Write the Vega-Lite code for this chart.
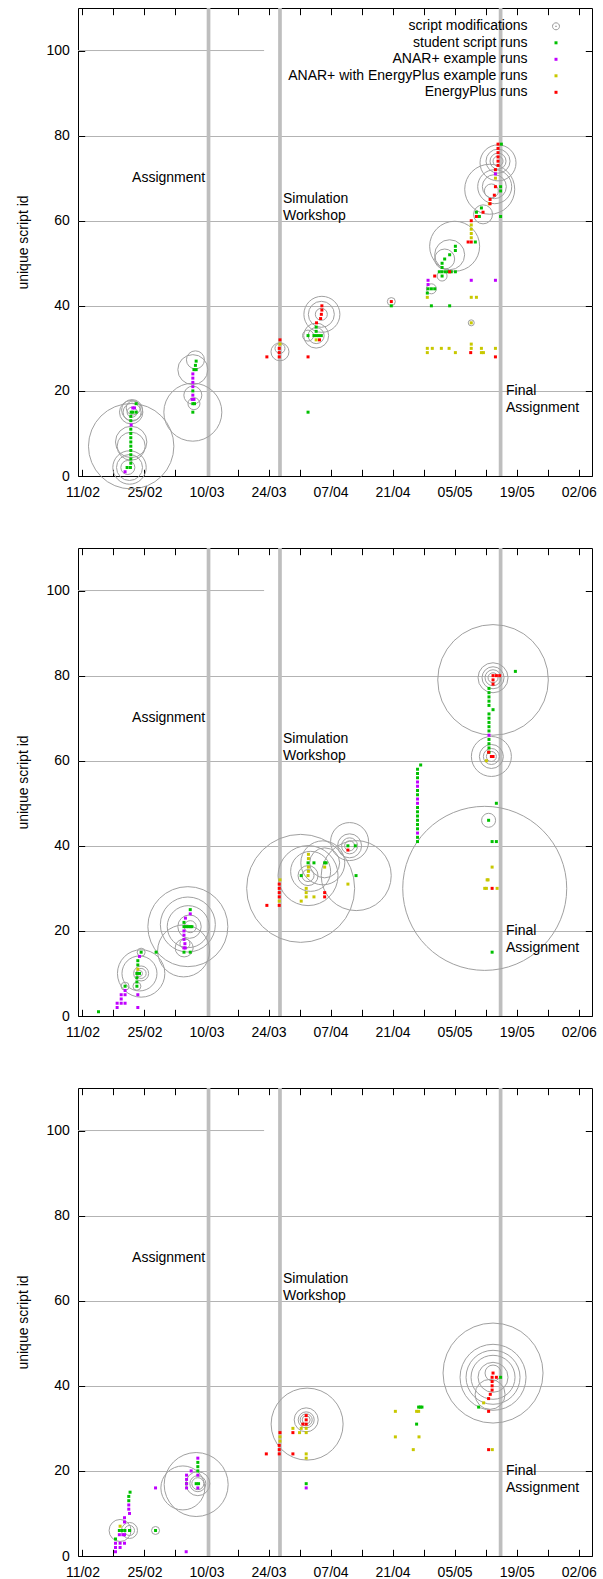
{
"$schema": "https://vega.github.io/schema/vega-lite/v6.json",
"padding": {"left": 16, "top": 5, "right": 0, "bottom": 12},
"spacing": 45,
"config": {
  "view": {"stroke": "#000000", "strokeWidth": 1},
  "font": "Liberation Sans",
  "axis": {"labelFont": "Liberation Sans", "labelFontSize": 14, "labelColor": "#000000", "tickColor": "#000000", "tickWidth": 1, "titleFont": "Liberation Sans", "titleFontSize": 14, "titleFontWeight": "normal", "titleColor": "#000000", "domain": false, "grid": false},
  "legend": {"title": null, "orient": "none", "legendX": 471, "legendY": 11.3, "labelAlign": "right", "labelOffset": -35.5, "labelLimit": 400, "labelFont": "Liberation Sans", "labelFontSize": 14, "labelColor": "#000000", "rowPadding": 2.5, "padding": 0, "symbolSize": 9, "symbolStrokeWidth": 1}
},
"datasets": {
"g100": [{"from": "2016-02-10T00:00Z", "to": "2016-03-23T00:00Z", "id": 100}],
"ev": [{"t": "2016-03-10T11:00Z"}, {"t": "2016-03-26T14:00Z"}, {"t": "2016-05-15T09:00Z"}],
"labR": [{"t": "2016-03-09T17:00Z", "v": 70, "text": "Assignment"}],
"labL": [{"t": "2016-03-27T06:00Z", "v": 65, "text": "Simulation"}, {"t": "2016-03-27T06:00Z", "v": 61, "text": "Workshop"}, {"t": "2016-05-16T14:00Z", "v": 20, "text": "Final"}, {"t": "2016-05-16T14:00Z", "v": 16, "text": "Assignment"}],
"r1": [
{"t":"2016-02-21T02:00Z","id":2,"s":"S"},{"t":"2016-02-21T20:00Z","id":2,"s":"S"},
{"t":"2016-02-21T22:00Z","id":3,"s":"S"},{"t":"2016-02-21T22:00Z","id":4,"s":"S"},{"t":"2016-02-21T22:00Z","id":5,"s":"S"},{"t":"2016-02-21T22:00Z","id":6,"s":"S"},{"t":"2016-02-21T22:00Z","id":7,"s":"S"},{"t":"2016-02-21T22:00Z","id":8,"s":"S"},{"t":"2016-02-21T22:00Z","id":9,"s":"S"},{"t":"2016-02-21T22:00Z","id":10,"s":"S"},{"t":"2016-02-21T22:00Z","id":11,"s":"S"},{"t":"2016-02-21T22:00Z","id":13,"s":"S"},{"t":"2016-02-21T22:00Z","id":14,"s":"S"},
{"t":"2016-02-22T00:00Z","id":15,"s":"S"},{"t":"2016-02-22T09:00Z","id":15,"s":"S"},{"t":"2016-02-23T03:00Z","id":15,"s":"S"},{"t":"2016-02-23T03:00Z","id":17,"s":"S"},
{"t":"2016-03-06T22:00Z","id":15,"s":"S"},{"t":"2016-03-06T22:00Z","id":17,"s":"S"},{"t":"2016-03-07T07:00Z","id":17,"s":"S"},{"t":"2016-03-06T22:00Z","id":20,"s":"S"},{"t":"2016-03-07T04:00Z","id":25,"s":"S"},{"t":"2016-03-07T16:00Z","id":25,"s":"S"},{"t":"2016-03-07T12:00Z","id":26,"s":"S"},{"t":"2016-03-07T16:00Z","id":27,"s":"S"},
{"t":"2016-04-01T22:00Z","id":15,"s":"S"},{"t":"2016-04-01T22:00Z","id":33,"s":"S"},{"t":"2016-04-03T06:00Z","id":33,"s":"S"},{"t":"2016-04-03T18:00Z","id":33,"s":"S"},{"t":"2016-04-04T07:00Z","id":33,"s":"S"},{"t":"2016-04-04T22:00Z","id":33,"s":"S"},{"t":"2016-04-03T18:00Z","id":34,"s":"S"},{"t":"2016-04-03T18:00Z","id":35,"s":"S"},
{"t":"2016-04-20T17:00Z","id":40,"s":"S"},
{"t":"2016-04-28T20:00Z","id":43,"s":"S"},{"t":"2016-04-29T00:00Z","id":44,"s":"S"},{"t":"2016-04-29T18:00Z","id":44,"s":"S"},{"t":"2016-04-30T12:00Z","id":44,"s":"S"},{"t":"2016-04-29T18:00Z","id":40,"s":"S"},{"t":"2016-05-03T21:00Z","id":40,"s":"S"},
{"t":"2016-05-02T04:00Z","id":47,"s":"S"},{"t":"2016-05-02T04:00Z","id":49,"s":"S"},{"t":"2016-05-02T04:00Z","id":50,"s":"S"},{"t":"2016-05-01T13:00Z","id":48,"s":"S"},{"t":"2016-05-02T04:00Z","id":48,"s":"S"},{"t":"2016-05-02T22:00Z","id":48,"s":"S"},{"t":"2016-05-03T14:00Z","id":48,"s":"S"},{"t":"2016-05-04T06:00Z","id":48,"s":"S"},{"t":"2016-05-05T04:00Z","id":48,"s":"S"},
{"t":"2016-05-02T18:00Z","id":51,"s":"S"},{"t":"2016-05-03T21:00Z","id":52,"s":"S"},{"t":"2016-05-05T04:00Z","id":53,"s":"S"},{"t":"2016-05-05T04:00Z","id":54,"s":"S"},
{"t":"2016-05-09T16:00Z","id":55,"s":"S"},{"t":"2016-05-09T22:00Z","id":62,"s":"S"},{"t":"2016-05-11T01:00Z","id":63,"s":"S"},{"t":"2016-05-10T14:00Z","id":61,"s":"S"},{"t":"2016-05-15T09:00Z","id":61,"s":"S"},{"t":"2016-05-15T09:00Z","id":67,"s":"S"},{"t":"2016-05-15T09:00Z","id":68,"s":"S"},{"t":"2016-05-15T13:00Z","id":78,"s":"S"},
{"t":"2016-02-20T15:00Z","id":1,"s":"A"},{"t":"2016-02-22T00:00Z","id":12,"s":"A"},{"t":"2016-02-22T09:00Z","id":16,"s":"A"},{"t":"2016-02-22T18:00Z","id":16,"s":"A"},
{"t":"2016-03-06T18:00Z","id":18,"s":"A"},{"t":"2016-03-07T04:00Z","id":18,"s":"A"},{"t":"2016-03-06T22:00Z","id":19,"s":"A"},{"t":"2016-03-06T22:00Z","id":21,"s":"A"},{"t":"2016-03-06T22:00Z","id":22,"s":"A"},{"t":"2016-03-06T22:00Z","id":23,"s":"A"},{"t":"2016-03-06T22:00Z","id":24,"s":"A"},
{"t":"2016-04-29T00:00Z","id":45,"s":"A"},{"t":"2016-04-29T00:00Z","id":46,"s":"A"},{"t":"2016-05-08T18:00Z","id":46,"s":"A"},{"t":"2016-05-14T05:00Z","id":46,"s":"A"},{"t":"2016-05-14T05:00Z","id":71,"s":"A"},
{"t":"2016-03-26T14:00Z","id":31,"s":"E"},{"t":"2016-04-03T18:00Z","id":32,"s":"E"},
{"t":"2016-04-28T20:00Z","id":42,"s":"E"},{"t":"2016-04-28T20:00Z","id":30,"s":"E"},{"t":"2016-04-29T23:00Z","id":30,"s":"E"},{"t":"2016-05-02T00:00Z","id":30,"s":"E"},{"t":"2016-05-03T18:00Z","id":30,"s":"E"},{"t":"2016-04-28T20:00Z","id":29,"s":"E"},{"t":"2016-05-05T04:00Z","id":29,"s":"E"},
{"t":"2016-05-08T18:00Z","id":42,"s":"E"},{"t":"2016-05-09T22:00Z","id":42,"s":"E"},{"t":"2016-05-08T18:00Z","id":36,"s":"E"},{"t":"2016-05-08T18:00Z","id":31,"s":"E"},{"t":"2016-05-08T18:00Z","id":30,"s":"E"},{"t":"2016-05-11T01:00Z","id":30,"s":"E"},{"t":"2016-05-14T05:00Z","id":30,"s":"E"},{"t":"2016-05-11T01:00Z","id":29,"s":"E"},{"t":"2016-05-11T12:00Z","id":29,"s":"E"},
{"t":"2016-05-08T18:00Z","id":56,"s":"E"},{"t":"2016-05-08T18:00Z","id":57,"s":"E"},{"t":"2016-05-08T18:00Z","id":58,"s":"E"},{"t":"2016-05-08T18:00Z","id":59,"s":"E"},{"t":"2016-05-12T20:00Z","id":64,"s":"E"},{"t":"2016-05-14T05:00Z","id":70,"s":"E"},
{"t":"2016-03-23T15:00Z","id":28,"s":"R"},{"t":"2016-03-26T10:00Z","id":28,"s":"R"},{"t":"2016-03-26T10:00Z","id":29,"s":"R"},{"t":"2016-03-26T10:00Z","id":30,"s":"R"},{"t":"2016-03-26T14:00Z","id":32,"s":"R"},
{"t":"2016-04-01T22:00Z","id":28,"s":"R"},{"t":"2016-04-04T12:00Z","id":32,"s":"R"},{"t":"2016-04-03T20:00Z","id":36,"s":"R"},{"t":"2016-04-04T18:00Z","id":37,"s":"R"},{"t":"2016-04-04T22:00Z","id":38,"s":"R"},{"t":"2016-04-05T01:00Z","id":39,"s":"R"},{"t":"2016-04-05T01:00Z","id":40,"s":"R"},
{"t":"2016-04-20T17:00Z","id":41,"s":"R"},{"t":"2016-04-30T12:00Z","id":47,"s":"R"},{"t":"2016-05-03T21:00Z","id":48,"s":"R"},{"t":"2016-05-08T15:00Z","id":29,"s":"R"},{"t":"2016-05-14T05:00Z","id":28,"s":"R"},
{"t":"2016-05-08T01:00Z","id":55,"s":"R"},{"t":"2016-05-08T18:00Z","id":55,"s":"R"},{"t":"2016-05-08T18:00Z","id":60,"s":"R"},{"t":"2016-05-11T10:00Z","id":62,"s":"R"},{"t":"2016-05-09T22:00Z","id":61,"s":"R"},{"t":"2016-05-13T00:00Z","id":64,"s":"R"},{"t":"2016-05-13T00:00Z","id":65,"s":"R"},{"t":"2016-05-13T23:00Z","id":66,"s":"R"},{"t":"2016-05-14T05:00Z","id":68,"s":"R"},{"t":"2016-05-14T05:00Z","id":72,"s":"R"},
{"t":"2016-05-14T19:00Z","id":73,"s":"R"},{"t":"2016-05-14T19:00Z","id":74,"s":"R"},{"t":"2016-05-14T19:00Z","id":75,"s":"R"},{"t":"2016-05-14T19:00Z","id":76,"s":"R"},{"t":"2016-05-14T19:00Z","id":77,"s":"R"},{"t":"2016-05-14T19:00Z","id":78,"s":"R"}
],
"c1": [
{"t":"2016-02-22T00:00Z","id":7,"n":42.7},{"t":"2016-02-22T00:00Z","id":8,"n":15.7},{"t":"2016-02-22T00:00Z","id":7,"n":14},{"t":"2016-02-21T15:00Z","id":2,"n":16.7},{"t":"2016-02-21T15:00Z","id":2,"n":13},{"t":"2016-02-21T06:00Z","id":2,"n":7},
{"t":"2016-02-22T00:00Z","id":15,"n":11.7},{"t":"2016-02-22T05:00Z","id":15.5,"n":10.5},{"t":"2016-02-22T05:00Z","id":15,"n":9},{"t":"2016-02-22T11:00Z","id":16,"n":7},{"t":"2016-02-22T05:00Z","id":15,"n":5},
{"t":"2016-03-06T22:00Z","id":15,"n":29},{"t":"2016-03-06T22:00Z","id":25,"n":15},{"t":"2016-03-07T12:00Z","id":27.3,"n":9},{"t":"2016-03-06T22:00Z","id":19,"n":9},{"t":"2016-03-07T04:00Z","id":17,"n":6},
{"t":"2016-03-26T14:00Z","id":29.2,"n":9},{"t":"2016-03-26T14:00Z","id":30,"n":5},
{"t":"2016-04-01T22:00Z","id":33,"n":5.5},{"t":"2016-04-03T18:00Z","id":33,"n":12.5},{"t":"2016-04-03T18:00Z","id":33,"n":8},{"t":"2016-04-05T01:00Z","id":38,"n":18},{"t":"2016-04-04T22:00Z","id":38,"n":13},{"t":"2016-04-04T22:00Z","id":38,"n":6},
{"t":"2016-04-20T17:00Z","id":41,"n":4},{"t":"2016-04-29T18:00Z","id":44,"n":5},{"t":"2016-05-08T18:00Z","id":36,"n":3},{"t":"2016-05-02T04:00Z","id":47,"n":5},{"t":"2016-05-02T18:00Z","id":51,"n":10},{"t":"2016-05-03T21:00Z","id":52,"n":15},{"t":"2016-05-05T00:00Z","id":54,"n":25},
{"t":"2016-05-11T10:00Z","id":61.5,"n":9.5},{"t":"2016-05-12T22:00Z","id":67.4,"n":25},{"t":"2016-05-14T01:00Z","id":68,"n":17},{"t":"2016-05-13T23:00Z","id":68,"n":12},{"t":"2016-05-13T07:00Z","id":67,"n":7},
{"t":"2016-05-14T19:00Z","id":73.6,"n":18},{"t":"2016-05-14T19:00Z","id":74,"n":12},{"t":"2016-05-14T19:00Z","id":74,"n":8},{"t":"2016-05-14T19:00Z","id":74,"n":5}
],
"r2": [
{"t":"2016-02-14T15:00Z","id":1,"s":"S"},{"t":"2016-02-20T15:00Z","id":7,"s":"S"},{"t":"2016-02-23T07:00Z","id":7,"s":"S"},{"t":"2016-02-23T07:00Z","id":8,"s":"S"},{"t":"2016-02-23T07:00Z","id":9,"s":"S"},{"t":"2016-02-23T07:00Z","id":10,"s":"S"},{"t":"2016-02-23T21:00Z","id":10,"s":"S"},{"t":"2016-02-23T12:00Z","id":12,"s":"S"},{"t":"2016-02-23T12:00Z","id":13,"s":"S"},{"t":"2016-02-24T06:00Z","id":15,"s":"S"},{"t":"2016-02-27T15:00Z","id":15,"s":"S"},
{"t":"2016-03-04T22:00Z","id":15,"s":"S"},{"t":"2016-03-06T08:00Z","id":15,"s":"S"},{"t":"2016-03-04T22:00Z","id":22,"s":"S"},{"t":"2016-03-06T08:00Z","id":25,"s":"S"},{"t":"2016-03-04T22:00Z","id":21,"s":"S"},{"t":"2016-03-05T10:00Z","id":21,"s":"S"},{"t":"2016-03-05T21:00Z","id":21,"s":"S"},{"t":"2016-03-06T08:00Z","id":21,"s":"S"},{"t":"2016-03-06T17:00Z","id":21,"s":"S"},
{"t":"2016-03-31T09:00Z","id":33,"s":"S"},{"t":"2016-04-01T22:00Z","id":36,"s":"S"},{"t":"2016-04-03T06:00Z","id":36,"s":"S"},{"t":"2016-04-05T16:00Z","id":36,"s":"S"},{"t":"2016-04-06T00:00Z","id":36,"s":"S"},
{"t":"2016-04-10T22:00Z","id":40,"s":"S"},{"t":"2016-04-12T14:00Z","id":40,"s":"S"},{"t":"2016-04-12T18:00Z","id":33,"s":"S"},
{"t":"2016-04-26T15:00Z","id":41,"s":"S"},{"t":"2016-04-26T15:00Z","id":42,"s":"S"},{"t":"2016-04-26T15:00Z","id":44,"s":"S"},{"t":"2016-04-26T15:00Z","id":45,"s":"S"},{"t":"2016-04-26T15:00Z","id":46,"s":"S"},{"t":"2016-04-26T15:00Z","id":47,"s":"S"},{"t":"2016-04-26T15:00Z","id":48,"s":"S"},{"t":"2016-04-26T15:00Z","id":49,"s":"S"},{"t":"2016-04-26T15:00Z","id":52,"s":"S"},{"t":"2016-04-26T15:00Z","id":53,"s":"S"},{"t":"2016-04-26T15:00Z","id":56,"s":"S"},{"t":"2016-04-26T15:00Z","id":57,"s":"S"},{"t":"2016-04-26T15:00Z","id":58,"s":"S"},{"t":"2016-04-27T08:00Z","id":59,"s":"S"},
{"t":"2016-05-12T16:00Z","id":46,"s":"S"},{"t":"2016-05-14T10:00Z","id":50,"s":"S"},{"t":"2016-05-13T11:00Z","id":41,"s":"S"},{"t":"2016-05-14T10:00Z","id":41,"s":"S"},{"t":"2016-05-13T11:00Z","id":15,"s":"S"},{"t":"2016-05-18T17:00Z","id":81,"s":"S"},
{"t":"2016-05-12T18:00Z","id":62,"s":"S"},{"t":"2016-05-12T18:00Z","id":63,"s":"S"},{"t":"2016-05-12T18:00Z","id":64,"s":"S"},{"t":"2016-05-12T18:00Z","id":65,"s":"S"},{"t":"2016-05-12T18:00Z","id":67,"s":"S"},{"t":"2016-05-12T18:00Z","id":68,"s":"S"},{"t":"2016-05-12T18:00Z","id":69,"s":"S"},{"t":"2016-05-12T18:00Z","id":70,"s":"S"},{"t":"2016-05-12T18:00Z","id":71,"s":"S"},{"t":"2016-05-12T18:00Z","id":73,"s":"S"},{"t":"2016-05-12T18:00Z","id":74,"s":"S"},{"t":"2016-05-12T18:00Z","id":75,"s":"S"},{"t":"2016-05-12T18:00Z","id":76,"s":"S"},{"t":"2016-05-12T18:00Z","id":77,"s":"S"},{"t":"2016-05-13T16:00Z","id":72,"s":"S"},
{"t":"2016-02-18T20:00Z","id":2,"s":"A"},{"t":"2016-02-18T20:00Z","id":3,"s":"A"},{"t":"2016-02-19T18:00Z","id":3,"s":"A"},{"t":"2016-02-20T15:00Z","id":3,"s":"A"},{"t":"2016-02-19T18:00Z","id":4,"s":"A"},{"t":"2016-02-19T18:00Z","id":5,"s":"A"},{"t":"2016-02-20T15:00Z","id":5,"s":"A"},{"t":"2016-02-20T15:00Z","id":6,"s":"A"},{"t":"2016-02-23T12:00Z","id":5,"s":"A"},{"t":"2016-02-23T12:00Z","id":2,"s":"A"},{"t":"2016-02-23T21:00Z","id":14,"s":"A"},
{"t":"2016-03-04T22:00Z","id":16,"s":"A"},{"t":"2016-03-05T05:00Z","id":16,"s":"A"},{"t":"2016-03-05T03:00Z","id":17,"s":"A"},{"t":"2016-03-04T22:00Z","id":18,"s":"A"},{"t":"2016-03-04T22:00Z","id":19,"s":"A"},{"t":"2016-03-04T22:00Z","id":20,"s":"A"},{"t":"2016-03-05T06:00Z","id":23,"s":"A"},{"t":"2016-03-06T08:00Z","id":24,"s":"A"},
{"t":"2016-04-26T15:00Z","id":43,"s":"A"},{"t":"2016-04-26T15:00Z","id":50,"s":"A"},{"t":"2016-04-26T15:00Z","id":51,"s":"A"},{"t":"2016-04-26T15:00Z","id":54,"s":"A"},{"t":"2016-04-26T15:00Z","id":55,"s":"A"},{"t":"2016-05-12T18:00Z","id":66,"s":"A"},
{"t":"2016-02-23T12:00Z","id":11,"s":"E"},{"t":"2016-03-26T10:00Z","id":27,"s":"E"},{"t":"2016-03-26T14:00Z","id":32,"s":"E"},
{"t":"2016-04-01T12:00Z","id":28,"s":"E"},{"t":"2016-04-01T12:00Z","id":29,"s":"E"},{"t":"2016-04-01T12:00Z","id":30,"s":"E"},{"t":"2016-04-02T00:00Z","id":34,"s":"E"},{"t":"2016-04-02T00:00Z","id":35,"s":"E"},{"t":"2016-04-02T00:00Z","id":37,"s":"E"},{"t":"2016-04-02T00:00Z","id":38,"s":"E"},{"t":"2016-04-01T22:00Z","id":33,"s":"E"},{"t":"2016-04-03T06:00Z","id":28,"s":"E"},{"t":"2016-03-31T09:00Z","id":27,"s":"E"},{"t":"2016-04-05T16:00Z","id":35,"s":"E"},{"t":"2016-04-10T22:00Z","id":31,"s":"E"},
{"t":"2016-05-13T11:00Z","id":35,"s":"E"},{"t":"2016-05-12T08:00Z","id":32,"s":"E"},{"t":"2016-05-12T13:00Z","id":32,"s":"E"},{"t":"2016-05-11T19:00Z","id":30,"s":"E"},{"t":"2016-05-12T04:00Z","id":30,"s":"E"},{"t":"2016-05-14T14:00Z","id":30,"s":"E"},{"t":"2016-05-12T04:00Z","id":60,"s":"E"},
{"t":"2016-03-23T15:00Z","id":26,"s":"R"},{"t":"2016-03-26T10:00Z","id":26,"s":"R"},{"t":"2016-03-26T10:00Z","id":28,"s":"R"},{"t":"2016-03-26T10:00Z","id":29,"s":"R"},{"t":"2016-03-26T10:00Z","id":30,"s":"R"},{"t":"2016-03-26T10:00Z","id":31,"s":"R"},
{"t":"2016-04-05T16:00Z","id":28,"s":"R"},{"t":"2016-04-05T16:00Z","id":29,"s":"R"},{"t":"2016-04-10T22:00Z","id":39,"s":"R"},{"t":"2016-05-13T11:00Z","id":30,"s":"R"},
{"t":"2016-05-13T16:00Z","id":80,"s":"R"},{"t":"2016-05-14T10:00Z","id":80,"s":"R"},{"t":"2016-05-15T04:00Z","id":80,"s":"R"},{"t":"2016-05-13T16:00Z","id":79,"s":"R"},{"t":"2016-05-13T16:00Z","id":78,"s":"R"},{"t":"2016-05-12T16:00Z","id":62,"s":"R"},{"t":"2016-05-13T16:00Z","id":61,"s":"R"},{"t":"2016-05-13T07:00Z","id":61,"s":"R"}
],
"c2": [
{"t":"2016-02-20T15:00Z","id":7,"n":4},{"t":"2016-02-23T07:00Z","id":7,"n":4},{"t":"2016-02-24T06:00Z","id":10,"n":23.7},{"t":"2016-02-23T21:00Z","id":10,"n":17.5},{"t":"2016-02-24T06:00Z","id":10,"n":7.5},{"t":"2016-02-24T06:00Z","id":10,"n":5},{"t":"2016-02-23T21:00Z","id":10,"n":3},{"t":"2016-02-24T06:00Z","id":15,"n":4},
{"t":"2016-03-05T19:00Z","id":21,"n":40},{"t":"2016-03-05T19:00Z","id":21.5,"n":27.5},{"t":"2016-03-05T21:00Z","id":21,"n":21},{"t":"2016-03-06T04:00Z","id":21,"n":11.7},{"t":"2016-03-06T08:00Z","id":21,"n":6},{"t":"2016-03-04T20:00Z","id":15.3,"n":26},{"t":"2016-03-05T03:00Z","id":17,"n":5},{"t":"2016-03-04T23:00Z","id":16,"n":9},
{"t":"2016-03-31T06:00Z","id":30,"n":54},{"t":"2016-04-01T22:00Z","id":33,"n":30},{"t":"2016-04-02T12:00Z","id":34,"n":20},{"t":"2016-04-01T22:00Z","id":33,"n":10},{"t":"2016-04-01T22:00Z","id":33,"n":6},{"t":"2016-04-05T16:00Z","id":36,"n":15},{"t":"2016-04-05T06:00Z","id":36,"n":22},
{"t":"2016-04-11T07:00Z","id":41,"n":19},{"t":"2016-04-11T07:00Z","id":40,"n":12},{"t":"2016-04-11T07:00Z","id":40,"n":8},{"t":"2016-04-11T07:00Z","id":40,"n":5},{"t":"2016-04-12T19:00Z","id":33,"n":35},
{"t":"2016-05-11T19:00Z","id":30,"n":82},{"t":"2016-05-12T16:00Z","id":46,"n":7},{"t":"2016-05-13T16:00Z","id":79,"n":55.3},{"t":"2016-05-13T16:00Z","id":79.5,"n":15},{"t":"2016-05-13T16:00Z","id":79.5,"n":11},{"t":"2016-05-13T16:00Z","id":79.5,"n":8},{"t":"2016-05-13T16:00Z","id":79.5,"n":5},
{"t":"2016-05-13T07:00Z","id":61,"n":20},{"t":"2016-05-13T07:00Z","id":61,"n":12},{"t":"2016-05-13T07:00Z","id":61,"n":8},{"t":"2016-05-13T07:00Z","id":61,"n":5}
],
"r3": [
{"t":"2016-02-18T11:00Z","id":4,"s":"S"},{"t":"2016-02-19T08:00Z","id":6,"s":"S"},{"t":"2016-02-19T23:00Z","id":6,"s":"S"},{"t":"2016-02-20T14:00Z","id":6,"s":"S"},{"t":"2016-02-21T15:00Z","id":6,"s":"S"},{"t":"2016-02-21T11:00Z","id":13,"s":"S"},{"t":"2016-02-21T11:00Z","id":14,"s":"S"},{"t":"2016-02-21T18:00Z","id":15,"s":"S"},{"t":"2016-02-27T12:00Z","id":6,"s":"S"},
{"t":"2016-03-05T12:00Z","id":17,"s":"S"},{"t":"2016-03-07T16:00Z","id":17,"s":"S"},{"t":"2016-03-08T05:00Z","id":17,"s":"S"},{"t":"2016-03-08T01:00Z","id":20,"s":"S"},{"t":"2016-03-08T01:00Z","id":21,"s":"S"},{"t":"2016-03-08T01:00Z","id":22,"s":"S"},
{"t":"2016-04-01T12:00Z","id":17,"s":"S"},{"t":"2016-04-26T10:00Z","id":31,"s":"S"},{"t":"2016-04-26T21:00Z","id":35,"s":"S"},{"t":"2016-04-27T06:00Z","id":35,"s":"S"},{"t":"2016-04-27T15:00Z","id":35,"s":"S"},{"t":"2016-05-15T09:00Z","id":42,"s":"S"},{"t":"2016-05-10T10:00Z","id":35,"s":"S"},
{"t":"2016-02-18T11:00Z","id":1,"s":"A"},{"t":"2016-02-18T11:00Z","id":2,"s":"A"},{"t":"2016-02-18T11:00Z","id":3,"s":"A"},{"t":"2016-02-19T12:00Z","id":2,"s":"A"},{"t":"2016-02-19T12:00Z","id":3,"s":"A"},{"t":"2016-02-20T12:00Z","id":3,"s":"A"},{"t":"2016-02-19T08:00Z","id":5,"s":"A"},{"t":"2016-02-20T03:00Z","id":5,"s":"A"},{"t":"2016-02-20T12:00Z","id":5,"s":"A"},{"t":"2016-02-20T12:00Z","id":8,"s":"A"},{"t":"2016-02-20T12:00Z","id":9,"s":"A"},{"t":"2016-02-21T15:00Z","id":10,"s":"A"},{"t":"2016-02-21T11:00Z","id":11,"s":"A"},{"t":"2016-02-21T11:00Z","id":12,"s":"A"},{"t":"2016-02-27T12:00Z","id":16,"s":"A"},
{"t":"2016-03-05T10:00Z","id":1,"s":"A"},{"t":"2016-03-05T12:00Z","id":16,"s":"A"},{"t":"2016-03-05T12:00Z","id":17,"s":"A"},{"t":"2016-03-05T12:00Z","id":18,"s":"A"},{"t":"2016-03-05T12:00Z","id":19,"s":"A"},{"t":"2016-03-06T13:00Z","id":20,"s":"A"},{"t":"2016-03-08T01:00Z","id":16,"s":"A"},{"t":"2016-03-08T01:00Z","id":19,"s":"A"},{"t":"2016-03-08T01:00Z","id":23,"s":"A"},{"t":"2016-04-01T12:00Z","id":16,"s":"A"},
{"t":"2016-02-19T12:00Z","id":7,"s":"E"},{"t":"2016-03-26T14:00Z","id":27,"s":"E"},{"t":"2016-03-26T14:00Z","id":28,"s":"E"},{"t":"2016-03-29T12:00Z","id":30,"s":"E"},{"t":"2016-03-31T00:00Z","id":29,"s":"E"},{"t":"2016-03-31T09:00Z","id":30,"s":"E"},{"t":"2016-04-01T12:00Z","id":30,"s":"E"},{"t":"2016-04-01T12:00Z","id":29,"s":"E"},{"t":"2016-04-01T12:00Z","id":24,"s":"E"},{"t":"2016-04-01T12:00Z","id":23,"s":"E"},
{"t":"2016-04-21T15:00Z","id":34,"s":"E"},{"t":"2016-04-21T15:00Z","id":28,"s":"E"},{"t":"2016-04-25T16:00Z","id":25,"s":"E"},{"t":"2016-04-26T10:00Z","id":34,"s":"E"},{"t":"2016-04-26T21:00Z","id":34,"s":"E"},{"t":"2016-04-26T23:00Z","id":28,"s":"E"},{"t":"2016-05-11T13:00Z","id":36,"s":"E"},{"t":"2016-05-13T12:00Z","id":25,"s":"E"},
{"t":"2016-03-23T12:00Z","id":24,"s":"R"},{"t":"2016-03-26T10:00Z","id":24,"s":"R"},{"t":"2016-03-26T10:00Z","id":25,"s":"R"},{"t":"2016-03-26T10:00Z","id":26,"s":"R"},{"t":"2016-03-26T14:00Z","id":29,"s":"R"},{"t":"2016-03-29T12:00Z","id":29,"s":"R"},{"t":"2016-03-29T12:00Z","id":24,"s":"R"},{"t":"2016-04-01T12:00Z","id":31,"s":"R"},{"t":"2016-04-01T12:00Z","id":32,"s":"R"},{"t":"2016-04-01T12:00Z","id":33,"s":"R"},{"t":"2016-03-31T18:00Z","id":31,"s":"R"},
{"t":"2016-05-13T16:00Z","id":43,"s":"R"},{"t":"2016-05-13T11:00Z","id":42,"s":"R"},{"t":"2016-05-14T10:00Z","id":42,"s":"R"},{"t":"2016-05-13T11:00Z","id":41,"s":"R"},{"t":"2016-05-13T11:00Z","id":40,"s":"R"},{"t":"2016-05-13T11:00Z","id":39,"s":"R"},{"t":"2016-05-13T01:00Z","id":38,"s":"R"},{"t":"2016-05-12T16:00Z","id":37,"s":"R"},{"t":"2016-05-12T16:00Z","id":34,"s":"R"},{"t":"2016-05-12T16:00Z","id":25,"s":"R"}
],
"c3": [
{"t":"2016-02-19T12:00Z","id":6,"n":11},{"t":"2016-02-21T15:00Z","id":6,"n":8},{"t":"2016-02-21T15:00Z","id":6,"n":5},{"t":"2016-02-27T12:00Z","id":6,"n":4},
{"t":"2016-03-07T16:00Z","id":16.8,"n":32},{"t":"2016-03-04T16:00Z","id":16,"n":22},{"t":"2016-03-08T01:00Z","id":17,"n":12},{"t":"2016-03-08T01:00Z","id":17,"n":8},{"t":"2016-03-08T01:00Z","id":17,"n":6},
{"t":"2016-04-01T17:00Z","id":31,"n":36},{"t":"2016-04-01T12:00Z","id":32,"n":12},{"t":"2016-04-01T12:00Z","id":32,"n":8},{"t":"2016-04-01T12:00Z","id":32,"n":6},{"t":"2016-04-01T12:00Z","id":32,"n":4},
{"t":"2016-05-13T16:00Z","id":43,"n":50},{"t":"2016-05-13T16:00Z","id":42,"n":33},{"t":"2016-05-13T16:00Z","id":42,"n":27},{"t":"2016-05-13T16:00Z","id":42,"n":22},{"t":"2016-05-13T16:00Z","id":42,"n":15},{"t":"2016-05-13T16:00Z","id":43,"n":8},{"t":"2016-05-13T00:00Z","id":38,"n":15}
]
},
"vconcat": [
{
 "width": 514, "height": 468,
 "resolve": {"axis": {"x": "independent", "y": "independent"}, "scale": {"size": "independent"}},
 "layer": [
  {"data": {"name": "g100"}, "mark": {"type": "rule", "color": "#b3b3b3", "strokeWidth": 1},
   "encoding": {
    "x": {"field": "from", "type": "temporal", "scale": {"type": "utc", "domain": [{"year":2016,"month":2,"date":10,"utc":true},{"year":2016,"month":6,"date":5,"utc":true}]},
      "axis": {"orient": "top", "values": [{"year":2016,"month":2,"date":11,"utc":true},{"year":2016,"month":2,"date":18,"utc":true},{"year":2016,"month":2,"date":25,"utc":true},{"year":2016,"month":3,"date":3,"utc":true},{"year":2016,"month":3,"date":10,"utc":true},{"year":2016,"month":3,"date":17,"utc":true},{"year":2016,"month":3,"date":24,"utc":true},{"year":2016,"month":3,"date":31,"utc":true},{"year":2016,"month":4,"date":7,"utc":true},{"year":2016,"month":4,"date":14,"utc":true},{"year":2016,"month":4,"date":21,"utc":true},{"year":2016,"month":4,"date":28,"utc":true},{"year":2016,"month":5,"date":5,"utc":true},{"year":2016,"month":5,"date":12,"utc":true},{"year":2016,"month":5,"date":19,"utc":true},{"year":2016,"month":5,"date":26,"utc":true},{"year":2016,"month":6,"date":2,"utc":true}],
        "labels": false, "tickSize": -6.7, "title": null, "grid": false,
        "encode": {"ticks": {"update": {"y2": {"signal": "round((datum.value - utc(2016,1,11)) / 86400000) % 14 == 0 ? 6.7 : 3.3"}}}}}},
    "x2": {"field": "to"},
    "y": {"field": "id", "type": "quantitative", "scale": {"domain": [0, 110], "nice": false, "zero": false},
      "axis": {"orient": "right", "values": [0, 20, 40, 60, 80, 100], "labels": false, "tickSize": -6.7, "title": null, "grid": false}}}},
  {"data": {"name": "ev"}, "mark": {"type": "rule", "color": "#bebebe", "strokeWidth": 3.7},
   "encoding": {"x": {"field": "t", "type": "temporal", "scale": {"type": "utc", "domain": [{"year":2016,"month":2,"date":10,"utc":true},{"year":2016,"month":6,"date":5,"utc":true}]}, "axis": null}}},
  {"data": {"name": "c1"}, "mark": {"type": "point", "shape": "circle", "filled": false, "color": "#a0a0a0", "strokeWidth": 1, "opacity": 1},
   "encoding": {
    "x": {"field": "t", "type": "temporal", "scale": {"type": "utc", "domain": [{"year":2016,"month":2,"date":10,"utc":true},{"year":2016,"month":6,"date":5,"utc":true}]}, "axis": null},
    "y": {"field": "id", "type": "quantitative", "scale": {"domain": [0, 110], "nice": false, "zero": false}, "axis": null},
    "size": {"field": "n", "type": "quantitative", "scale": {"type": "pow", "exponent": 2, "domain": [0, 100], "range": [0, 40000]}, "legend": null}}},
  {"data": {"name": "r1"}, "mark": {"type": "point", "filled": true, "size": 9, "opacity": 1, "strokeWidth": 1},
   "encoding": {
    "x": {"field": "t", "type": "temporal", "scale": {"type": "utc", "domain": [{"year":2016,"month":2,"date":10,"utc":true},{"year":2016,"month":6,"date":5,"utc":true}]},
      "axis": {"orient": "bottom", "values": [{"year":2016,"month":2,"date":11,"utc":true},{"year":2016,"month":2,"date":18,"utc":true},{"year":2016,"month":2,"date":25,"utc":true},{"year":2016,"month":3,"date":3,"utc":true},{"year":2016,"month":3,"date":10,"utc":true},{"year":2016,"month":3,"date":17,"utc":true},{"year":2016,"month":3,"date":24,"utc":true},{"year":2016,"month":3,"date":31,"utc":true},{"year":2016,"month":4,"date":7,"utc":true},{"year":2016,"month":4,"date":14,"utc":true},{"year":2016,"month":4,"date":21,"utc":true},{"year":2016,"month":4,"date":28,"utc":true},{"year":2016,"month":5,"date":5,"utc":true},{"year":2016,"month":5,"date":12,"utc":true},{"year":2016,"month":5,"date":19,"utc":true},{"year":2016,"month":5,"date":26,"utc":true},{"year":2016,"month":6,"date":2,"utc":true}],
        "format": "%d/%m", "labelExpr": "round((datum.value - utc(2016,1,11)) / 86400000) % 14 == 0 ? datum.label : ''",
        "tickSize": -6.7, "labelPadding": 15.8, "labelOverlap": false, "labelFlush": false, "title": null, "grid": false,
        "encode": {"ticks": {"update": {"y2": {"signal": "round((datum.value - utc(2016,1,11)) / 86400000) % 14 == 0 ? -6.7 : -3.3"}}}}}},
    "y": {"field": "id", "type": "quantitative", "scale": {"domain": [0, 110], "nice": false, "zero": false},
      "axis": {"orient": "left", "values": [0, 20, 40, 60, 80, 100], "tickSize": -6.7, "labelPadding": 15.4, "grid": true, "gridColor": "#b3b3b3", "gridWidth": 1,
        "gridOpacity": {"condition": {"test": "datum.value == 0 || datum.value == 100", "value": 0}, "value": 1},
        "title": "unique script id", "titlePadding": 15}},
    "fill": {"field": "s", "type": "nominal", "scale": {"domain": ["M", "S", "A", "E", "R"], "range": ["transparent", "#00c000", "#c000ff", "#c8c800", "#ff0000"]},
      "legend": {"labelExpr": "datum.label == 'M' ? 'script modifications' : datum.label == 'S' ? 'student script runs' : datum.label == 'A' ? 'ANAR+ example runs' : datum.label == 'E' ? 'ANAR+ with EnergyPlus example runs' : 'EnergyPlus runs'"}},
    "stroke": {"field": "s", "type": "nominal", "scale": {"domain": ["M", "S", "A", "E", "R"], "range": ["#999999", "transparent", "transparent", "transparent", "transparent"]},
      "legend": {"labelExpr": "datum.label == 'M' ? 'script modifications' : datum.label == 'S' ? 'student script runs' : datum.label == 'A' ? 'ANAR+ example runs' : datum.label == 'E' ? 'ANAR+ with EnergyPlus example runs' : 'EnergyPlus runs'"}},
    "shape": {"field": "s", "type": "nominal", "scale": {"domain": ["M", "S", "A", "E", "R"], "range": ["M-2.33,0A2.33,2.33,0,1,1,2.33,0A2.33,2.33,0,1,1,-2.33,0ZM-0.3,0A0.3,0.3,0,1,1,0.3,0A0.3,0.3,0,1,1,-0.3,0Z", "square", "square", "square", "square"]},
      "legend": {"labelExpr": "datum.label == 'M' ? 'script modifications' : datum.label == 'S' ? 'student script runs' : datum.label == 'A' ? 'ANAR+ example runs' : datum.label == 'E' ? 'ANAR+ with EnergyPlus example runs' : 'EnergyPlus runs'"}}}},
  {"data": {"name": "labR"}, "mark": {"type": "text", "align": "right", "baseline": "middle", "font": "Liberation Sans", "fontSize": 14, "color": "#000000"},
   "encoding": {
    "x": {"field": "t", "type": "temporal", "scale": {"type": "utc", "domain": [{"year":2016,"month":2,"date":10,"utc":true},{"year":2016,"month":6,"date":5,"utc":true}]}, "axis": null},
    "y": {"field": "v", "type": "quantitative", "scale": {"domain": [0, 110], "nice": false, "zero": false}, "axis": null},
    "text": {"field": "text"}}},
  {"data": {"name": "labL"}, "mark": {"type": "text", "align": "left", "baseline": "middle", "font": "Liberation Sans", "fontSize": 14, "color": "#000000"},
   "encoding": {
    "x": {"field": "t", "type": "temporal", "scale": {"type": "utc", "domain": [{"year":2016,"month":2,"date":10,"utc":true},{"year":2016,"month":6,"date":5,"utc":true}]}, "axis": null},
    "y": {"field": "v", "type": "quantitative", "scale": {"domain": [0, 110], "nice": false, "zero": false}, "axis": null},
    "text": {"field": "text"}}}
 ]
},
{
 "width": 514, "height": 468,
 "resolve": {"axis": {"x": "independent", "y": "independent"}, "scale": {"size": "independent"}},
 "layer": [
  {"data": {"name": "g100"}, "mark": {"type": "rule", "color": "#b3b3b3", "strokeWidth": 1},
   "encoding": {
    "x": {"field": "from", "type": "temporal", "scale": {"type": "utc", "domain": [{"year":2016,"month":2,"date":10,"utc":true},{"year":2016,"month":6,"date":5,"utc":true}]},
      "axis": {"orient": "top", "values": [{"year":2016,"month":2,"date":11,"utc":true},{"year":2016,"month":2,"date":18,"utc":true},{"year":2016,"month":2,"date":25,"utc":true},{"year":2016,"month":3,"date":3,"utc":true},{"year":2016,"month":3,"date":10,"utc":true},{"year":2016,"month":3,"date":17,"utc":true},{"year":2016,"month":3,"date":24,"utc":true},{"year":2016,"month":3,"date":31,"utc":true},{"year":2016,"month":4,"date":7,"utc":true},{"year":2016,"month":4,"date":14,"utc":true},{"year":2016,"month":4,"date":21,"utc":true},{"year":2016,"month":4,"date":28,"utc":true},{"year":2016,"month":5,"date":5,"utc":true},{"year":2016,"month":5,"date":12,"utc":true},{"year":2016,"month":5,"date":19,"utc":true},{"year":2016,"month":5,"date":26,"utc":true},{"year":2016,"month":6,"date":2,"utc":true}],
        "labels": false, "tickSize": -6.7, "title": null, "grid": false,
        "encode": {"ticks": {"update": {"y2": {"signal": "round((datum.value - utc(2016,1,11)) / 86400000) % 14 == 0 ? 6.7 : 3.3"}}}}}},
    "x2": {"field": "to"},
    "y": {"field": "id", "type": "quantitative", "scale": {"domain": [0, 110], "nice": false, "zero": false},
      "axis": {"orient": "right", "values": [0, 20, 40, 60, 80, 100], "labels": false, "tickSize": -6.7, "title": null, "grid": false}}}},
  {"data": {"name": "ev"}, "mark": {"type": "rule", "color": "#bebebe", "strokeWidth": 3.7},
   "encoding": {"x": {"field": "t", "type": "temporal", "scale": {"type": "utc", "domain": [{"year":2016,"month":2,"date":10,"utc":true},{"year":2016,"month":6,"date":5,"utc":true}]}, "axis": null}}},
  {"data": {"name": "c2"}, "mark": {"type": "point", "shape": "circle", "filled": false, "color": "#a0a0a0", "strokeWidth": 1, "opacity": 1},
   "encoding": {
    "x": {"field": "t", "type": "temporal", "scale": {"type": "utc", "domain": [{"year":2016,"month":2,"date":10,"utc":true},{"year":2016,"month":6,"date":5,"utc":true}]}, "axis": null},
    "y": {"field": "id", "type": "quantitative", "scale": {"domain": [0, 110], "nice": false, "zero": false}, "axis": null},
    "size": {"field": "n", "type": "quantitative", "scale": {"type": "pow", "exponent": 2, "domain": [0, 100], "range": [0, 40000]}, "legend": null}}},
  {"data": {"name": "r2"}, "mark": {"type": "point", "filled": true, "size": 9, "opacity": 1, "strokeWidth": 1},
   "encoding": {
    "x": {"field": "t", "type": "temporal", "scale": {"type": "utc", "domain": [{"year":2016,"month":2,"date":10,"utc":true},{"year":2016,"month":6,"date":5,"utc":true}]},
      "axis": {"orient": "bottom", "values": [{"year":2016,"month":2,"date":11,"utc":true},{"year":2016,"month":2,"date":18,"utc":true},{"year":2016,"month":2,"date":25,"utc":true},{"year":2016,"month":3,"date":3,"utc":true},{"year":2016,"month":3,"date":10,"utc":true},{"year":2016,"month":3,"date":17,"utc":true},{"year":2016,"month":3,"date":24,"utc":true},{"year":2016,"month":3,"date":31,"utc":true},{"year":2016,"month":4,"date":7,"utc":true},{"year":2016,"month":4,"date":14,"utc":true},{"year":2016,"month":4,"date":21,"utc":true},{"year":2016,"month":4,"date":28,"utc":true},{"year":2016,"month":5,"date":5,"utc":true},{"year":2016,"month":5,"date":12,"utc":true},{"year":2016,"month":5,"date":19,"utc":true},{"year":2016,"month":5,"date":26,"utc":true},{"year":2016,"month":6,"date":2,"utc":true}],
        "format": "%d/%m", "labelExpr": "round((datum.value - utc(2016,1,11)) / 86400000) % 14 == 0 ? datum.label : ''",
        "tickSize": -6.7, "labelPadding": 15.8, "labelOverlap": false, "labelFlush": false, "title": null, "grid": false,
        "encode": {"ticks": {"update": {"y2": {"signal": "round((datum.value - utc(2016,1,11)) / 86400000) % 14 == 0 ? -6.7 : -3.3"}}}}}},
    "y": {"field": "id", "type": "quantitative", "scale": {"domain": [0, 110], "nice": false, "zero": false},
      "axis": {"orient": "left", "values": [0, 20, 40, 60, 80, 100], "tickSize": -6.7, "labelPadding": 15.4, "grid": true, "gridColor": "#b3b3b3", "gridWidth": 1,
        "gridOpacity": {"condition": {"test": "datum.value == 0 || datum.value == 100", "value": 0}, "value": 1},
        "title": "unique script id", "titlePadding": 15}},
    "fill": {"field": "s", "type": "nominal", "scale": {"domain": ["M", "S", "A", "E", "R"], "range": ["transparent", "#00c000", "#c000ff", "#c8c800", "#ff0000"]},
      "legend": {"labelExpr": "datum.label == 'M' ? 'script modifications' : datum.label == 'S' ? 'student script runs' : datum.label == 'A' ? 'ANAR+ example runs' : datum.label == 'E' ? 'ANAR+ with EnergyPlus example runs' : 'EnergyPlus runs'"}},
    "stroke": {"field": "s", "type": "nominal", "scale": {"domain": ["M", "S", "A", "E", "R"], "range": ["#999999", "transparent", "transparent", "transparent", "transparent"]},
      "legend": {"labelExpr": "datum.label == 'M' ? 'script modifications' : datum.label == 'S' ? 'student script runs' : datum.label == 'A' ? 'ANAR+ example runs' : datum.label == 'E' ? 'ANAR+ with EnergyPlus example runs' : 'EnergyPlus runs'"}},
    "shape": {"field": "s", "type": "nominal", "scale": {"domain": ["M", "S", "A", "E", "R"], "range": ["M-2.33,0A2.33,2.33,0,1,1,2.33,0A2.33,2.33,0,1,1,-2.33,0ZM-0.3,0A0.3,0.3,0,1,1,0.3,0A0.3,0.3,0,1,1,-0.3,0Z", "square", "square", "square", "square"]},
      "legend": {"labelExpr": "datum.label == 'M' ? 'script modifications' : datum.label == 'S' ? 'student script runs' : datum.label == 'A' ? 'ANAR+ example runs' : datum.label == 'E' ? 'ANAR+ with EnergyPlus example runs' : 'EnergyPlus runs'"}}}},
  {"data": {"name": "labR"}, "mark": {"type": "text", "align": "right", "baseline": "middle", "font": "Liberation Sans", "fontSize": 14, "color": "#000000"},
   "encoding": {
    "x": {"field": "t", "type": "temporal", "scale": {"type": "utc", "domain": [{"year":2016,"month":2,"date":10,"utc":true},{"year":2016,"month":6,"date":5,"utc":true}]}, "axis": null},
    "y": {"field": "v", "type": "quantitative", "scale": {"domain": [0, 110], "nice": false, "zero": false}, "axis": null},
    "text": {"field": "text"}}},
  {"data": {"name": "labL"}, "mark": {"type": "text", "align": "left", "baseline": "middle", "font": "Liberation Sans", "fontSize": 14, "color": "#000000"},
   "encoding": {
    "x": {"field": "t", "type": "temporal", "scale": {"type": "utc", "domain": [{"year":2016,"month":2,"date":10,"utc":true},{"year":2016,"month":6,"date":5,"utc":true}]}, "axis": null},
    "y": {"field": "v", "type": "quantitative", "scale": {"domain": [0, 110], "nice": false, "zero": false}, "axis": null},
    "text": {"field": "text"}}}
 ]
},
{
 "width": 514, "height": 468,
 "resolve": {"axis": {"x": "independent", "y": "independent"}, "scale": {"size": "independent"}},
 "layer": [
  {"data": {"name": "g100"}, "mark": {"type": "rule", "color": "#b3b3b3", "strokeWidth": 1},
   "encoding": {
    "x": {"field": "from", "type": "temporal", "scale": {"type": "utc", "domain": [{"year":2016,"month":2,"date":10,"utc":true},{"year":2016,"month":6,"date":5,"utc":true}]},
      "axis": {"orient": "top", "values": [{"year":2016,"month":2,"date":11,"utc":true},{"year":2016,"month":2,"date":18,"utc":true},{"year":2016,"month":2,"date":25,"utc":true},{"year":2016,"month":3,"date":3,"utc":true},{"year":2016,"month":3,"date":10,"utc":true},{"year":2016,"month":3,"date":17,"utc":true},{"year":2016,"month":3,"date":24,"utc":true},{"year":2016,"month":3,"date":31,"utc":true},{"year":2016,"month":4,"date":7,"utc":true},{"year":2016,"month":4,"date":14,"utc":true},{"year":2016,"month":4,"date":21,"utc":true},{"year":2016,"month":4,"date":28,"utc":true},{"year":2016,"month":5,"date":5,"utc":true},{"year":2016,"month":5,"date":12,"utc":true},{"year":2016,"month":5,"date":19,"utc":true},{"year":2016,"month":5,"date":26,"utc":true},{"year":2016,"month":6,"date":2,"utc":true}],
        "labels": false, "tickSize": -6.7, "title": null, "grid": false,
        "encode": {"ticks": {"update": {"y2": {"signal": "round((datum.value - utc(2016,1,11)) / 86400000) % 14 == 0 ? 6.7 : 3.3"}}}}}},
    "x2": {"field": "to"},
    "y": {"field": "id", "type": "quantitative", "scale": {"domain": [0, 110], "nice": false, "zero": false},
      "axis": {"orient": "right", "values": [0, 20, 40, 60, 80, 100], "labels": false, "tickSize": -6.7, "title": null, "grid": false}}}},
  {"data": {"name": "ev"}, "mark": {"type": "rule", "color": "#bebebe", "strokeWidth": 3.7},
   "encoding": {"x": {"field": "t", "type": "temporal", "scale": {"type": "utc", "domain": [{"year":2016,"month":2,"date":10,"utc":true},{"year":2016,"month":6,"date":5,"utc":true}]}, "axis": null}}},
  {"data": {"name": "c3"}, "mark": {"type": "point", "shape": "circle", "filled": false, "color": "#a0a0a0", "strokeWidth": 1, "opacity": 1},
   "encoding": {
    "x": {"field": "t", "type": "temporal", "scale": {"type": "utc", "domain": [{"year":2016,"month":2,"date":10,"utc":true},{"year":2016,"month":6,"date":5,"utc":true}]}, "axis": null},
    "y": {"field": "id", "type": "quantitative", "scale": {"domain": [0, 110], "nice": false, "zero": false}, "axis": null},
    "size": {"field": "n", "type": "quantitative", "scale": {"type": "pow", "exponent": 2, "domain": [0, 100], "range": [0, 40000]}, "legend": null}}},
  {"data": {"name": "r3"}, "mark": {"type": "point", "filled": true, "size": 9, "opacity": 1, "strokeWidth": 1},
   "encoding": {
    "x": {"field": "t", "type": "temporal", "scale": {"type": "utc", "domain": [{"year":2016,"month":2,"date":10,"utc":true},{"year":2016,"month":6,"date":5,"utc":true}]},
      "axis": {"orient": "bottom", "values": [{"year":2016,"month":2,"date":11,"utc":true},{"year":2016,"month":2,"date":18,"utc":true},{"year":2016,"month":2,"date":25,"utc":true},{"year":2016,"month":3,"date":3,"utc":true},{"year":2016,"month":3,"date":10,"utc":true},{"year":2016,"month":3,"date":17,"utc":true},{"year":2016,"month":3,"date":24,"utc":true},{"year":2016,"month":3,"date":31,"utc":true},{"year":2016,"month":4,"date":7,"utc":true},{"year":2016,"month":4,"date":14,"utc":true},{"year":2016,"month":4,"date":21,"utc":true},{"year":2016,"month":4,"date":28,"utc":true},{"year":2016,"month":5,"date":5,"utc":true},{"year":2016,"month":5,"date":12,"utc":true},{"year":2016,"month":5,"date":19,"utc":true},{"year":2016,"month":5,"date":26,"utc":true},{"year":2016,"month":6,"date":2,"utc":true}],
        "format": "%d/%m", "labelExpr": "round((datum.value - utc(2016,1,11)) / 86400000) % 14 == 0 ? datum.label : ''",
        "tickSize": -6.7, "labelPadding": 15.8, "labelOverlap": false, "labelFlush": false, "title": null, "grid": false,
        "encode": {"ticks": {"update": {"y2": {"signal": "round((datum.value - utc(2016,1,11)) / 86400000) % 14 == 0 ? -6.7 : -3.3"}}}}}},
    "y": {"field": "id", "type": "quantitative", "scale": {"domain": [0, 110], "nice": false, "zero": false},
      "axis": {"orient": "left", "values": [0, 20, 40, 60, 80, 100], "tickSize": -6.7, "labelPadding": 15.4, "grid": true, "gridColor": "#b3b3b3", "gridWidth": 1,
        "gridOpacity": {"condition": {"test": "datum.value == 0 || datum.value == 100", "value": 0}, "value": 1},
        "title": "unique script id", "titlePadding": 15}},
    "fill": {"field": "s", "type": "nominal", "scale": {"domain": ["M", "S", "A", "E", "R"], "range": ["transparent", "#00c000", "#c000ff", "#c8c800", "#ff0000"]},
      "legend": {"labelExpr": "datum.label == 'M' ? 'script modifications' : datum.label == 'S' ? 'student script runs' : datum.label == 'A' ? 'ANAR+ example runs' : datum.label == 'E' ? 'ANAR+ with EnergyPlus example runs' : 'EnergyPlus runs'"}},
    "stroke": {"field": "s", "type": "nominal", "scale": {"domain": ["M", "S", "A", "E", "R"], "range": ["#999999", "transparent", "transparent", "transparent", "transparent"]},
      "legend": {"labelExpr": "datum.label == 'M' ? 'script modifications' : datum.label == 'S' ? 'student script runs' : datum.label == 'A' ? 'ANAR+ example runs' : datum.label == 'E' ? 'ANAR+ with EnergyPlus example runs' : 'EnergyPlus runs'"}},
    "shape": {"field": "s", "type": "nominal", "scale": {"domain": ["M", "S", "A", "E", "R"], "range": ["M-2.33,0A2.33,2.33,0,1,1,2.33,0A2.33,2.33,0,1,1,-2.33,0ZM-0.3,0A0.3,0.3,0,1,1,0.3,0A0.3,0.3,0,1,1,-0.3,0Z", "square", "square", "square", "square"]},
      "legend": {"labelExpr": "datum.label == 'M' ? 'script modifications' : datum.label == 'S' ? 'student script runs' : datum.label == 'A' ? 'ANAR+ example runs' : datum.label == 'E' ? 'ANAR+ with EnergyPlus example runs' : 'EnergyPlus runs'"}}}},
  {"data": {"name": "labR"}, "mark": {"type": "text", "align": "right", "baseline": "middle", "font": "Liberation Sans", "fontSize": 14, "color": "#000000"},
   "encoding": {
    "x": {"field": "t", "type": "temporal", "scale": {"type": "utc", "domain": [{"year":2016,"month":2,"date":10,"utc":true},{"year":2016,"month":6,"date":5,"utc":true}]}, "axis": null},
    "y": {"field": "v", "type": "quantitative", "scale": {"domain": [0, 110], "nice": false, "zero": false}, "axis": null},
    "text": {"field": "text"}}},
  {"data": {"name": "labL"}, "mark": {"type": "text", "align": "left", "baseline": "middle", "font": "Liberation Sans", "fontSize": 14, "color": "#000000"},
   "encoding": {
    "x": {"field": "t", "type": "temporal", "scale": {"type": "utc", "domain": [{"year":2016,"month":2,"date":10,"utc":true},{"year":2016,"month":6,"date":5,"utc":true}]}, "axis": null},
    "y": {"field": "v", "type": "quantitative", "scale": {"domain": [0, 110], "nice": false, "zero": false}, "axis": null},
    "text": {"field": "text"}}}
 ]
}
]
}
